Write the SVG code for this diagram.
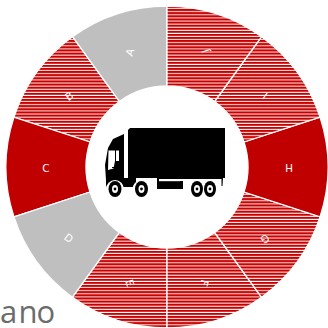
<svg xmlns="http://www.w3.org/2000/svg" width="328" height="328" viewBox="0 0 328 328">
<style>
.s{stroke:#fff;stroke-width:1.3}
.h{fill:url(#hatch)}
.r{fill:#c00000}
.g{fill:#bfbfbf}
.k{fill:#000}
.w{fill:#fff}
text.l{font-family:"DejaVu Sans",sans-serif;font-size:10.500px;fill:#fff;text-anchor:middle;dominant-baseline:central}
</style>
<defs>
<pattern id="hatch" patternUnits="userSpaceOnUse" x="0" y="6" width="10" height="3.1">
<rect width="10" height="3.1" fill="#c80000"/>
<rect y="2.1" width="10" height="1" fill="#fff"/>
</pattern>
</defs>
<rect width="328" height="328" fill="#fff"/>
<text x="0 18.500 36.500" y="322.500" font-family="'Open Sans',sans-serif" font-size="31" fill="#6b6b6b">ano</text>
<g id="connectors"></g>
<g id="node-a"><path class="g s" d="M167 6A161 161 0 0 0 72.400 36.700L119.400 101.500A81 81 0 0 1 167 86Z"/><text class="l" transform="translate(129.600 52) rotate(-72)">A</text></g>
<g id="node-b"><path class="h s" d="M72.400 36.700A161 161 0 0 0 13.900 117.200L90 142A81 81 0 0 1 119.400 101.500Z"/><text class="l" transform="translate(69 96) rotate(-36)">B</text></g>
<g id="node-c"><path class="r s" d="M13.900 117.200A161 161 0 0 0 13.900 216.800L90 192A81 81 0 0 1 90 142Z"/><text class="l" transform="translate(46 168)">C</text></g>
<g id="node-d"><path class="g s" d="M13.900 216.800A161 161 0 0 0 72.400 297.300L119.400 232.500A81 81 0 0 1 90 192Z"/><text class="l" transform="translate(69 238) rotate(36)">D</text></g>
<g id="node-e"><path class="h s" d="M72.400 297.300A161 161 0 0 0 167 328L167 248A81 81 0 0 1 119.400 232.500Z"/><text class="l" transform="translate(130 283) rotate(72)">E</text></g>
<g id="node-f"><path class="h s" d="M167 328A161 161 0 0 0 261.600 297.300L214.600 232.500A81 81 0 0 1 167 248Z"/><text class="l" transform="translate(204.500 283) rotate(108)">F</text></g>
<g id="node-g"><path class="h s" d="M261.600 297.300A161 161 0 0 0 320.100 216.800L244 192A81 81 0 0 1 214.600 232.500Z"/><text class="l" transform="translate(265 239) rotate(144)">G</text></g>
<g id="node-h"><path class="r s" d="M320.100 216.800A161 161 0 0 0 320.100 117.200L244 142A81 81 0 0 1 244 192Z"/><text class="l" transform="translate(289 168) rotate(180)">H</text></g>
<g id="node-i"><path class="h s" d="M320.100 117.200A161 161 0 0 0 261.600 36.700L214.600 101.500A81 81 0 0 1 244 142Z"/><text class="l" transform="translate(265 96) rotate(216)">I</text></g>
<g id="node-j"><path class="h s" d="M261.600 36.700A161 161 0 0 0 167 6L167 86A81 81 0 0 1 214.600 101.500Z"/><text class="l" transform="translate(205 51) rotate(252)">J</text></g>
<g id="node-truck">
<path class="k" d="M128 130L130 128H225V178H223L222.500 186H221.500V179H160V187H157V178H128Z"/>
<path class="k" d="M124 134V178H136V187H106V180L105 165L108 148L113 139Z"/>
<path class="w" d="M108.500 150.500H119V161H115L113.500 168.500L108 170Z"/>
<rect class="k" x="115" y="150" width="1" height="12"/>
<rect class="k" x="112" y="167" width="2.500" height="1"/>
<path class="k" d="M157 181H183V189H157Z"/>
<rect class="w" x="159" y="179" width="21" height="2.200"/>
<g class="w"><circle cx="115" cy="189" r="9"/><circle cx="141.500" cy="189" r="9"/><circle cx="197" cy="189" r="8.500"/><circle cx="210" cy="189" r="8.500"/></g>
<rect class="k" x="123" y="178" width="10" height="8.500"/>
<g class="k"><ellipse cx="115" cy="189" rx="6.500" ry="8"/><ellipse cx="141.500" cy="189" rx="6.500" ry="8"/><ellipse cx="197" cy="189" rx="6" ry="8"/><ellipse cx="210" cy="189" rx="6" ry="8"/></g>
<g class="w"><ellipse cx="115" cy="189" rx="3" ry="4"/><ellipse cx="141.500" cy="189" rx="3" ry="4"/><ellipse cx="197" cy="189" rx="3" ry="4"/><ellipse cx="210" cy="189" rx="3" ry="4"/></g>
<g class="k"><circle cx="115" cy="189" r="1.400"/><circle cx="141.500" cy="189" r="1.400"/><circle cx="197" cy="189" r="1.400"/><circle cx="210" cy="189" r="1.400"/></g>
</g>
</svg>
